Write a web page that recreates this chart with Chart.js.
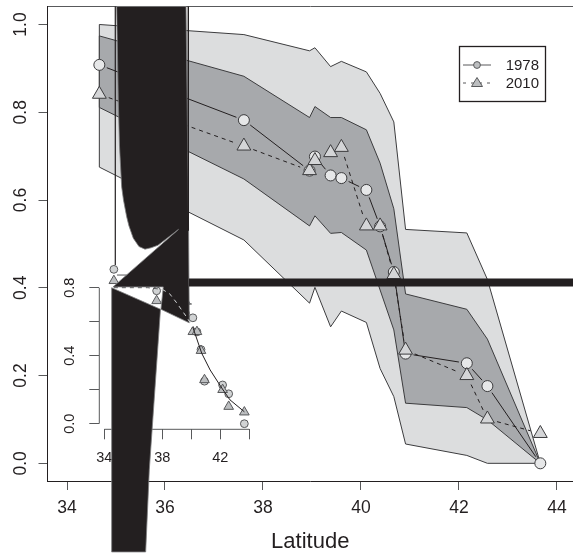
<!DOCTYPE html>
<html>
<head>
<meta charset="utf-8">
<title>Latitude</title>
<script src="https://cdn.jsdelivr.net/npm/chart.js@4/dist/chart.umd.js"></script>
<style>
    html, body { margin: 0; padding: 0; background: #fff; }
    #wrap { position: relative; width: 573px; height: 555px; overflow: hidden; }
    canvas { position: absolute; left: 0; top: 0; }
</style>
</head>
<body>
<div id="wrap">
    <canvas id="mainChart" width="573" height="555"></canvas>
    <canvas id="insetChart" width="573" height="555"></canvas>
    <canvas id="inkChart" width="573" height="555"></canvas>
</div>
<script>
// Values
const latitude = [34.66, 37.61, 38.95, 39.06, 39.38, 39.6, 40.11, 40.39, 40.67, 40.91, 42.16, 42.58, 43.66];
const values1978 = [0.908, 0.782, 0.667, 0.699, 0.656, 0.650, 0.623, 0.540, 0.436, 0.250, 0.228, 0.176, 0];
const values2010 = [0.841, 0.723, 0.667, 0.690, 0.708, 0.720, 0.541, 0.541, 0.430, 0.258, 0.200, 0.101, 0.068];
const outerUpper = [1.0, 0.977, 0.940, 0.947, 0.904, 0.916, 0.892, 0.843, 0.778, 0.533, 0.525, 0.419, 0];
const outerLower = [0.675, 0.509, 0.365, 0.401, 0.311, 0.347, 0.321, 0.216, 0.152, 0.044, 0.018, 0, 0];
const innerUpper = [0.974, 0.882, 0.788, 0.813, 0.788, 0.788, 0.760, 0.684, 0.580, 0.386, 0.351, 0.283, 0];
const innerLower = [0.811, 0.648, 0.541, 0.564, 0.524, 0.526, 0.486, 0.395, 0.304, 0.137, 0.127, 0.099, 0];

// Fitted curve of the inset
const fitLat = [34.66, 37, 38, 38.5, 39, 39.68, 40.1, 40.72, 41.3, 42.1, 42.67, 43.66];
const fitValues = [0.8, 0.8, 0.79, 0.765, 0.71, 0.627, 0.569, 0.414, 0.316, 0.21, 0.14, 0.07];

// Black blotches that sit over the figure
const blotchLat = [35.014, 36.429, 36.48, 36.496, 35.918, 35.965, 34.939, 36.276, 35.857, 35.714, 35.592, 35.469, 35.353, 35.265, 35.218, 35.153, 35.116, 35.071, 35.047, 35.014];
const blotchVal = [1.041, 1.041, 0.554, 0.32, 0.351, 0.402, 0.402, 0.533, 0.497, 0.491, 0.488, 0.494, 0.513, 0.541, 0.562, 0.6, 0.63, 0.725, 0.828, 1.041];
const wedgeLat = [34.912, 35.908, 35.68, 35.606, 34.912, 34.912];
const wedgeVal = [0.4, 0.351, -0.015, -0.202, -0.202, 0.4];
const barLat = [36.49, 44.33];
const barVal = [0.412, 0.412];
const leftRuleLat = [34.986, 34.986];
const leftRuleVal = [1.041, 0.452];
const rightRuleLat = [36.476, 36.476];
const rightRuleVal = [1.041, 0.53];
const stubLat = [35.02, 35.22];
const stubVal = [0.429, 0.429];
const nickLat = [36.49, 36.55];
const nickVal = [0.363, 0.363];

// Axes
const xTicks = [34, 36, 38, 40, 42, 44];
const yTicks = [0, 0.2, 0.4, 0.6, 0.8, 1.0];
const insetXTicks = [34, 36, 38, 40, 42, 44];
const insetXLabels = [34, 38, 42];
const insetYTicks = [0, 0.2, 0.4, 0.6, 0.8];
const insetYLabels = [0, 0.4, 0.8];

const INK = '#231f20';
const EDGE = '#3c3c3e';
const FONT = '"Liberation Sans", Arial, sans-serif';

Chart.defaults.animation = false;
Chart.defaults.responsive = false;
Chart.defaults.layout.autoPadding = false;
Chart.defaults.plugins.legend.display = false;
Chart.defaults.plugins.tooltip.enabled = false;
Chart.defaults.font.family = FONT;

const pairs = (xs, ys) => xs.map((x, i) => ({ x: x, y: ys[i] }));
const ring = (xs, upper, lower) => pairs(
    [...xs, ...[...xs].reverse(), xs[0]],
    [...upper, ...[...lower].reverse(), upper[0]]
);

// Keep the plot area exactly where we ask for it
function pinScale(s, size) {
    if (s.isHorizontal()) s.height = size;
    else s.width = size;
    s.paddingLeft = s.paddingRight = s.paddingTop = s.paddingBottom = 0;
}

// R's type="b": the line stops short of each marker
function gapDash(ctx, gap, dash) {
    const len = Math.hypot(ctx.p1.x - ctx.p0.x, ctx.p1.y - ctx.p0.y);
    const run = len - 2 * gap;
    if (run <= 0) return [0, len + 1];
    if (!dash) return [0, gap, run, gap + 1];
    const out = [0, gap];
    let left = run;
    while (left > 0) {
        const piece = Math.min(dash, left);
        out.push(piece);
        left -= piece + dash;
        out.push(left > 0 ? dash : gap + dash + 1);
    }
    return out;
}

function band(points, colour, order) {
    return {
        data: points, showLine: true, fill: 'shape', order: order,
        backgroundColor: colour, borderColor: EDGE, borderWidth: 1,
        pointRadius: 0, tension: 0
    };
}

// Legend in the style of the original, boxed inside the plot
const boxLegend = {
    id: 'boxLegend',
    afterDatasetsDraw(chart) {
        const ctx = chart.ctx;
        ctx.save();
        ctx.strokeStyle = INK;
        ctx.lineWidth = 1.3;
        ctx.strokeRect(459.5, 46.5, 86, 55);

        ctx.lineWidth = 1;
        ctx.strokeStyle = '#58595b';
        ctx.beginPath();
        ctx.moveTo(463, 65);
        ctx.lineTo(491, 65);
        ctx.stroke();
        ctx.setLineDash([3, 5]);
        ctx.beginPath();
        ctx.moveTo(463, 83);
        ctx.lineTo(491, 83);
        ctx.stroke();
        ctx.setLineDash([]);

        ctx.fillStyle = '#bcbec0';
        ctx.beginPath();
        ctx.arc(477, 65, 3.4, 0, Math.PI * 2);
        ctx.fill();
        ctx.stroke();
        ctx.beginPath();
        ctx.moveTo(477, 77.5);
        ctx.lineTo(482.5, 86.5);
        ctx.lineTo(471.5, 86.5);
        ctx.closePath();
        ctx.fill();
        ctx.stroke();

        ctx.fillStyle = INK;
        ctx.font = '15px ' + FONT;
        ctx.textAlign = 'right';
        ctx.textBaseline = 'middle';
        ctx.fillText('1978', 539, 65.5);
        ctx.fillText('2010', 539, 84);
        ctx.restore();
    }
};

new Chart(document.getElementById('mainChart'), {
    type: 'scatter',
    plugins: [boxLegend],
    data: {
        datasets: [
            band(ring(latitude, outerUpper, outerLower), '#dcddde', 4),
            band(ring(latitude, innerUpper, innerLower), '#a7a9ac', 3),
            {
                label: '1978', data: pairs(latitude, values1978), showLine: true, order: 2,
                borderColor: INK, borderWidth: 1, tension: 0,
                segment: { borderDash: ctx => gapDash(ctx, 8, 0) },
                pointStyle: 'circle', pointRadius: 5.5, pointBorderWidth: 1,
                pointBackgroundColor: '#e6e7e8', pointBorderColor: EDGE
            },
            {
                label: '2010', data: pairs(latitude, values2010), showLine: true, order: 1,
                borderColor: INK, borderWidth: 1, tension: 0,
                segment: { borderDash: ctx => gapDash(ctx, 10, 4) },
                pointStyle: 'triangle', pointRadius: 8, pointBorderWidth: 1,
                pointBackgroundColor: '#d4d5d7', pointBorderColor: EDGE
            }
        ]
    },
    options: {
        layout: { padding: { top: 6.5 } },
        scales: {
            x: {
                type: 'linear', min: 33.602, max: 44.327,
                afterBuildTicks: s => { s.ticks = xTicks.map(v => ({ value: v })); },
                afterFit: s => pinScale(s, 74),
                grid: { drawOnChartArea: false, tickLength: 9, tickColor: '#58595b' },
                border: { display: true, color: INK, width: 1 },
                ticks: { color: INK, font: { size: 17.5 }, padding: 8, maxRotation: 0, callback: v => v },
                title: { display: true, text: 'Latitude', color: INK, font: { size: 22 }, padding: { top: 10, bottom: 0 } }
            },
            top: {
                type: 'linear', position: 'top', min: 33.602, max: 44.327,
                afterFit: s => pinScale(s, 0),
                grid: { display: false },
                border: { display: true, color: '#58595b', width: 1 },
                ticks: { display: false }
            },
            y: {
                type: 'linear', min: -0.0403, max: 1.041,
                afterBuildTicks: s => { s.ticks = yTicks.map(v => ({ value: v })); },
                afterFit: s => pinScale(s, 47.5),
                grid: { drawOnChartArea: false, tickLength: 9, tickColor: '#58595b' },
                border: { display: true, color: INK, width: 1 },
                ticks: {
                    color: INK, font: { size: 17.5 }, padding: 5, minRotation: 90, maxRotation: 90,
                    crossAlign: 'center', callback: v => v.toFixed(1)
                }
            }
        }
    }
});

new Chart(document.getElementById('insetChart'), {
    type: 'scatter',
    data: {
        datasets: [
            {
                data: pairs(latitude, values1978), order: 2, clip: false,
                pointStyle: 'circle', pointRadius: 3.9, pointBorderWidth: 1,
                pointBackgroundColor: '#d1d3d4', pointBorderColor: '#58595b'
            },
            {
                data: pairs(latitude, values2010), order: 1, clip: false,
                pointStyle: 'triangle', pointRadius: 5.6, pointBorderWidth: 1,
                pointBackgroundColor: '#bcbec0', pointBorderColor: '#58595b'
            },
            {
                data: pairs([34, 44], [-0.0329, -0.0329]), showLine: true, clip: false, order: 3,
                borderColor: '#58595b', borderWidth: 1, pointRadius: 0
            },
            {
                data: pairs([33.655, 33.655], [0, 0.8]), showLine: true, clip: false, order: 3,
                borderColor: '#58595b', borderWidth: 1, pointRadius: 0
            }
        ]
    },
    options: {
        layout: { padding: { top: 260, right: 323 } },
        scales: {
            x: {
                type: 'linear', min: 33.655, max: 44.05,
                afterBuildTicks: s => { s.ticks = insetXTicks.map(v => ({ value: v })); },
                afterFit: s => pinScale(s, 125.7),
                grid: { drawOnChartArea: false, tickLength: 10, tickColor: '#58595b' },
                border: { display: false },
                ticks: {
                    color: INK, font: { size: 14.5 }, padding: 10, maxRotation: 0, autoSkip: false,
                    callback: v => (insetXLabels.includes(v) ? v : '')
                }
            },
            y: {
                type: 'linear', min: -0.0329, max: 0.963,
                afterBuildTicks: s => { s.ticks = insetYTicks.map(v => ({ value: v })); },
                afterFit: s => pinScale(s, 99.3),
                grid: { drawOnChartArea: false, tickLength: 10, tickColor: '#58595b' },
                border: { display: false },
                ticks: {
                    color: INK, font: { size: 14.5 }, padding: 9, minRotation: 90, maxRotation: 90,
                    crossAlign: 'center', autoSkip: false,
                    callback: v => (insetYLabels.includes(v) ? v.toFixed(1) : '')
                }
            }
        }
    }
});

function inkShape(xs, ys) {
    return {
        data: pairs(xs, ys), showLine: true, fill: 'shape', order: 3, tension: 0,
        backgroundColor: INK, borderColor: '#7d7d7f', borderWidth: 0.8, pointRadius: 0
    };
}

function inkLine(xs, ys, width, colour) {
    return {
        data: pairs(xs, ys), showLine: true, order: 2,
        borderColor: colour, borderWidth: width, pointRadius: 0
    };
}

new Chart(document.getElementById('inkChart'), {
    type: 'scatter',
    data: {
        datasets: [
            inkShape(blotchLat, blotchVal),
            inkShape(wedgeLat, wedgeVal),
            inkLine(barLat, barVal, 8, INK),
            inkLine(leftRuleLat, leftRuleVal, 1.2, INK),
            inkLine(rightRuleLat, rightRuleVal, 1.4, INK),
            inkLine(stubLat, stubVal, 1, '#58595b'),
            inkLine(nickLat, nickVal, 1, '#58595b'),
            {
                data: pairs(fitLat, fitValues), showLine: true, order: 1, tension: 0,
                xAxisID: 'xi', yAxisID: 'yi', borderWidth: 1, borderColor: INK, pointRadius: 0,
                segment: {
                    borderColor: ctx => (ctx.p0.parsed.x < 38 ? '#58595b' : ctx.p0.parsed.x < 39.9 ? '#d1d3d4' : INK),
                    borderDash: ctx => (ctx.p0.parsed.x < 39.9 ? [4, 4] : [])
                }
            }
        ]
    },
    options: {
        scales: {
            x: { type: 'linear', display: false, min: 32.633, max: 44.327 },
            y: { type: 'linear', display: false, min: -0.209, max: 1.0558 },
            xi: { type: 'linear', axis: 'x', display: false, min: 26.807, max: 66.324 },
            yi: { type: 'linear', axis: 'y', display: false, min: -0.7724, max: 2.4924 }
        }
    }
});
</script>
</body>
</html>
